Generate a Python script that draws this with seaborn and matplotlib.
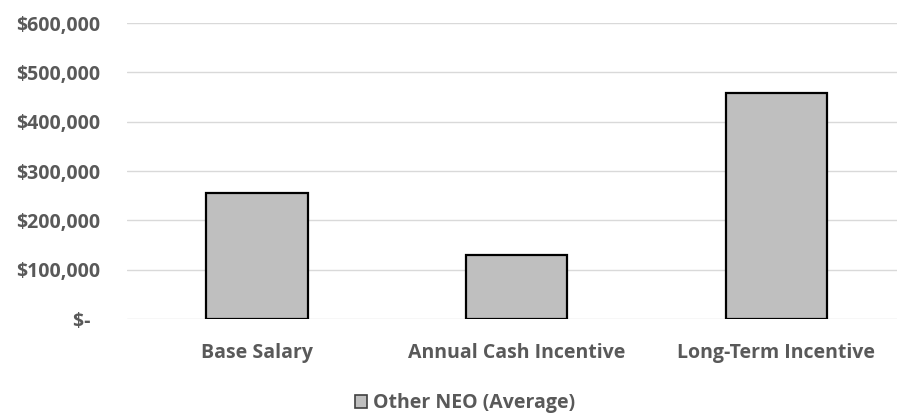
import matplotlib
matplotlib.use("Agg")
import matplotlib.pyplot as plt
from matplotlib.patches import Patch
import seaborn as sns
import pandas as pd

categories = ["Base Salary", "Annual Cash Incentive", "Long-Term Incentive"]
values = [255000, 129000, 458000]
series_name = "Other NEO (Average)"
y_ticks = [0, 100000, 200000, 300000, 400000, 500000, 600000]

df = pd.DataFrame({"category": categories, "value": values})

sns.set_theme(style="white")
plt.rcParams["font.family"] = ["Open Sans", "DejaVu Sans"]

text_color = "#595959"
bar_color = "#BFBFBF"
label_size = 14
label_weight = "bold"

fig = plt.figure(figsize=(8.97, 4.19), dpi=100)
ax = fig.add_axes([127 / 897, 100 / 419, 1 - 127 / 897, 296 / 419])

sns.barplot(data=df, x="category", y="value", color=bar_color, width=0.39,
            edgecolor="black", linewidth=1.6, saturation=1, ax=ax, zorder=3)

ax.set_ylim(0, 600000)
ax.set_xlim(-0.5, 2.464)


def money(v):
    # accounting-style: zero shown as a dash
    if v == 0:
        return "$-  "
    return f"${v:,.0f}"


ax.set_yticks(y_ticks, [money(v) for v in y_ticks],
              fontsize=label_size, fontweight=label_weight, color=text_color)
ax.set_xticks(range(len(categories)), categories,
              fontsize=label_size, fontweight=label_weight, color=text_color)
ax.grid(axis="y", color="#D9D9D9", linewidth=1.0, zorder=0)
for s in ax.spines.values():
    s.set_visible(False)
ax.set_xlabel("")
ax.set_ylabel("")
ax.tick_params(axis="y", length=0, pad=19)
ax.tick_params(axis="x", length=0, pad=17)

handle = Patch(facecolor=bar_color, edgecolor="#404040", linewidth=1.2)
leg = fig.legend([handle], [series_name], loc="center", bbox_to_anchor=(465 / 897, 1 - 403 / 419),
                 frameon=False, handlelength=0.65, handleheight=0.65, handletextpad=0.3,
                 prop={"size": label_size, "weight": label_weight})
for t in leg.get_texts():
    t.set_color(text_color)

fig.savefig("out.png", dpi=100)
